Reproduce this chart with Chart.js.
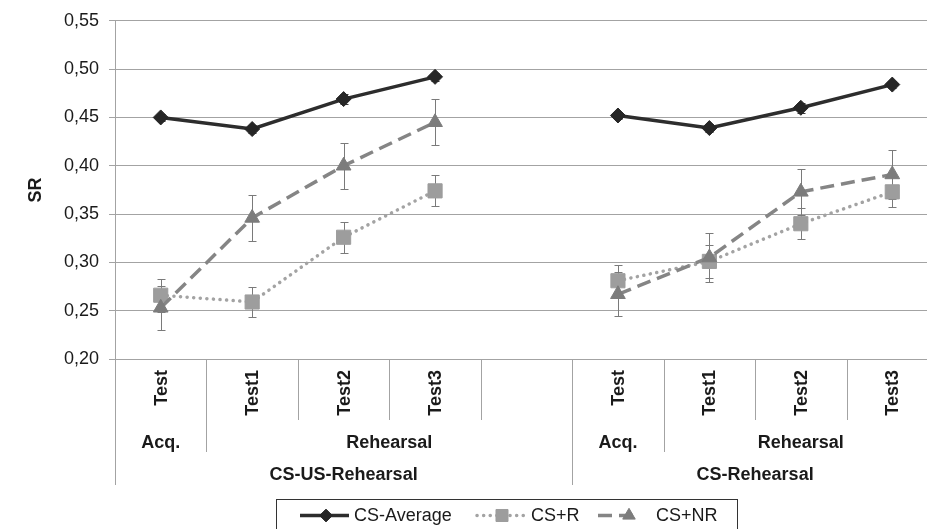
<!DOCTYPE html>
<html><head><meta charset="utf-8">
<script src="https://cdn.jsdelivr.net/npm/chart.js@4.4.0/dist/chart.umd.min.js"></script>
<style>html,body{margin:0;padding:0;background:#fff;overflow:hidden;width:927px;height:529px}canvas{display:block}</style>
</head><body>
<canvas id="c" width="949" height="529"></canvas>
<script>
// ---- data ----
const categories = ['Test','Test1','Test2','Test3','','Test','Test1','Test2','Test3'];
const phaseNames = ['Acq.','Rehearsal','Acq.','Rehearsal'];
const phaseStarts = [0,1,5,6];
const groupNames = ['CS-US-Rehearsal','CS-Rehearsal'];
const groupStarts = [0,5];
const seriesNames = ['CS-Average','CS+R','CS+NR'];
const csAverage    = [0.450,0.438,0.469,0.492,null,0.452,0.439,0.460,0.484];
const csAverageErr = [0.004,0.004,0.005,0.004,null,0.004,0.004,0.005,0.004];
const csR          = [0.266,0.259,0.326,0.374,null,0.281,0.301,0.340,0.373];
const csRErr       = [0.017,0.016,0.016,0.016,null,0.016,0.017,0.016,0.016];
const csNR         = [0.253,0.346,0.400,0.445,null,0.267,0.305,0.373,0.391];
const csNRErr      = [0.023,0.024,0.024,0.024,null,0.023,0.025,0.024,0.025];
const yMin = 0.20, yMax = 0.55, yStep = 0.05;
const yTitle = 'SR';

const FONT = '"Liberation Sans", Arial, sans-serif';
const GRID = '#a3a3a3';
const errs = [csAverageErr, csRErr, csNRErr];

const decor = {
  id: 'decor',
  beforeDatasetsDraw(chart) {
    const ctx = chart.ctx, y = chart.scales.y;
    ctx.save();
    chart.data.datasets.forEach((ds, i) => {
      const meta = chart.getDatasetMeta(i);
      const e = errs[ds.errIndex];
      ctx.strokeStyle = ds.errColor; ctx.lineWidth = 1;
      ds.data.forEach((v, j) => {
        if (v == null) return;
        const x = Math.round(meta.data[j].x) + 0.5;
        const t = Math.round(y.getPixelForValue(v + e[j])) + 0.5;
        const b = Math.round(y.getPixelForValue(v - e[j])) + 0.5;
        ctx.beginPath();
        ctx.moveTo(x, t); ctx.lineTo(x, b);
        ctx.moveTo(x - 4, t); ctx.lineTo(x + 4, t);
        ctx.moveTo(x - 4, b); ctx.lineTo(x + 4, b);
        ctx.stroke();
      });
    });
    ctx.restore();
  },
  afterDraw(chart) {
    const ctx = chart.ctx, ca = chart.chartArea;
    const n = categories.length, w = (ca.right - ca.left) / n;
    ctx.save();
    // y title
    ctx.fillStyle = '#1a1a1a';
    ctx.font = 'bold 18px ' + FONT;
    ctx.save();
    ctx.translate(36, (ca.top + ca.bottom) / 2);
    ctx.rotate(-Math.PI / 2);
    ctx.textAlign = 'center'; ctx.textBaseline = 'middle';
    ctx.fillText(yTitle, 0, 0);
    ctx.restore();
    // separators
    ctx.strokeStyle = GRID; ctx.lineWidth = 1;
    for (let j = 0; j <= n; j++) {
      let len = 61;
      if (groupStarts.includes(j) || j === n) len = 126;
      else if (phaseStarts.includes(j)) len = 93;
      const x = Math.round(ca.left + j * w) + 0.5;
      ctx.beginPath(); ctx.moveTo(x, ca.bottom); ctx.lineTo(x, ca.bottom + len); ctx.stroke();
    }
    // category labels (rotated)
    const xs = chart.scales.x;
    ctx.fillStyle = '#1a1a1a';
    ctx.font = 'bold 18px ' + FONT;
    categories.forEach((c, j) => {
      if (!c) return;
      ctx.save();
      ctx.translate(xs.getPixelForValue(j), ca.bottom + 11);
      ctx.rotate(-Math.PI / 2);
      ctx.textAlign = 'right'; ctx.textBaseline = 'middle';
      ctx.fillText(c, 0, 1);
      ctx.restore();
    });
    // phase labels
    ctx.textAlign = 'center'; ctx.textBaseline = 'middle';
    phaseNames.forEach((p, k) => {
      const s = phaseStarts[k], e = (k + 1 < phaseStarts.length ? phaseStarts[k + 1] : n);
      ctx.fillText(p, ca.left + (s + e) / 2 * w, ca.bottom + 84);
    });
    groupNames.forEach((g, k) => {
      const s = groupStarts[k], e = (k + 1 < groupStarts.length ? groupStarts[k + 1] : n);
      ctx.fillText(g, ca.left + (s + e) / 2 * w, ca.bottom + 116);
    });
    // legend
    ctx.strokeStyle = '#333'; ctx.lineWidth = 1;
    ctx.strokeRect(276.5, 499.5, 461, 40);
    const ly = 515.5;
    const items = [
      {x0: 300, x1: 349, mx: 326, tx: 354},
      {x0: 477, x1: 528, mx: 502, tx: 531},
      {x0: 598, x1: 640, mx: 629, tx: 656},
    ];
    chart.data.datasets.forEach((ds) => {
      const it = items[ds.errIndex];
      ctx.save();
      ctx.strokeStyle = ds.borderColor; ctx.lineWidth = ds.borderWidth;
      ctx.setLineDash(ds.borderDash || []);
      ctx.lineCap = ds.borderCapStyle || 'butt';
      ctx.beginPath(); ctx.moveTo(it.x0, ly); ctx.lineTo(it.x1, ly); ctx.stroke();
      ctx.restore();
      ctx.save();
      ctx.fillStyle = ds.pointBackgroundColor; ctx.strokeStyle = ds.pointBorderColor; ctx.lineWidth = 1;
      Chart.helpers.drawPoint(ctx, {pointStyle: ds.pointStyle, radius: ds.pointRadius * 0.85, borderWidth: 1, rotation: 0}, it.mx, ly);
      ctx.restore();
      ctx.fillStyle = '#1a1a1a';
      ctx.font = '18px ' + FONT;
      ctx.textAlign = 'left'; ctx.textBaseline = 'middle';
      ctx.fillText(seriesNames[ds.errIndex], it.tx, ly + 1);
    });
    ctx.restore();
  }
};

new Chart(document.getElementById('c'), {
  type: 'line',
  data: {
    labels: categories,
    datasets: [
      { label: seriesNames[0], data: csAverage, errIndex: 0, errColor: '#3a3a3a',
        borderColor: '#2d2d2d', borderWidth: 3.5, pointStyle: 'rectRot', pointRadius: 7.5,
        pointBackgroundColor: '#262626', pointBorderColor: '#262626', pointBorderWidth: 1, order: 0 },
      { label: seriesNames[2], data: csNR, errIndex: 2, errColor: '#7a7a7a',
        borderColor: '#858585', borderWidth: 3.5, borderDash: [14, 7], pointStyle: 'triangle', pointRadius: 8.5,
        pointBackgroundColor: '#7c7c7c', pointBorderColor: '#7c7c7c', pointBorderWidth: 1, order: 1 },
      { label: seriesNames[1], data: csR, errIndex: 1, errColor: '#7a7a7a',
        borderColor: '#a3a3a3', borderWidth: 3.5, borderDash: [0.1, 6.5], borderCapStyle: 'round', pointStyle: 'rect', pointRadius: 10,
        pointBackgroundColor: '#9d9d9d', pointBorderColor: '#9d9d9d', pointBorderWidth: 1, order: 2 }
    ]
  },
  options: {
    responsive: false, animation: false, devicePixelRatio: 1,
    layout: { padding: { top: 19, right: 7, left: 0, bottom: 0 } },
    plugins: { legend: { display: false }, tooltip: { enabled: false } },
    elements: { line: { tension: 0 } },
    scales: {
      x: {
        type: 'category', offset: true,
        grid: { display: false, drawTicks: false }, border: { display: false },
        ticks: { display: false },
        afterFit(s) { s.height = 170; }
      },
      y: {
        min: yMin, max: yMax,
        afterFit(s) { s.width = 115; },
        border: { color: GRID, width: 1 },
        grid: { color: GRID, lineWidth: 1, tickLength: 6 },
        ticks: {
          stepSize: yStep, padding: 10, color: '#1a1a1a',
          font: { family: FONT, size: 18 },
          callback: v => v.toFixed(2).replace('.', ',')
        }
      }
    }
  },
  plugins: [decor]
});
</script>
</body></html>
